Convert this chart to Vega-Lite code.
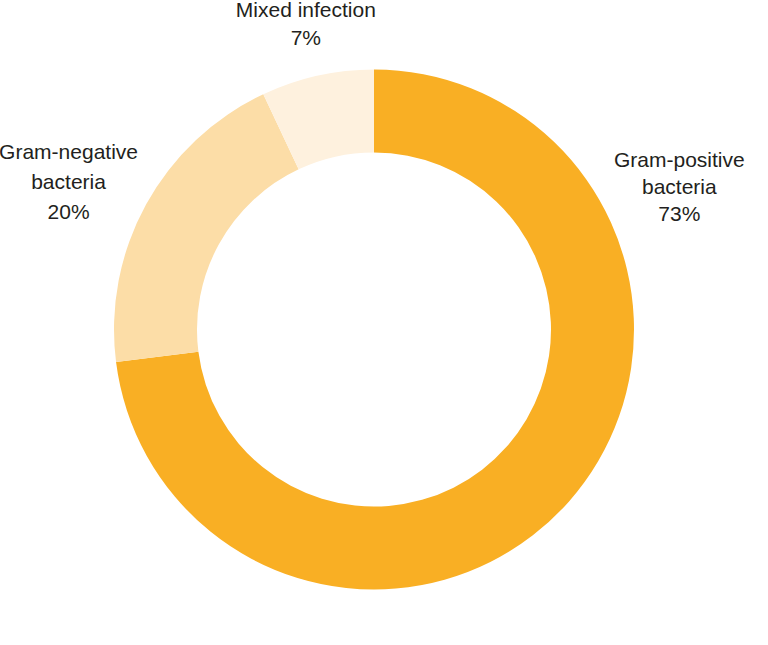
{
  "$schema": "https://vega.github.io/schema/vega-lite/v6.json",
  "width": 768,
  "height": 645,
  "autosize": {"type": "fit", "contains": "padding"},
  "padding": {"left": 0, "right": 20, "top": 7, "bottom": 0},
  "background": "white",
  "view": {"stroke": null},
  "data": {
    "values": [
      {"category": "Gram-positive bacteria", "label": "Gram-positive\nbacteria\n73%", "share": 73},
      {"category": "Gram-negative bacteria", "label": "Gram-negative\nbacteria\n20%", "share": 20},
      {"category": "Mixed infection", "label": "Mixed infection\n7%", "share": 7}
    ]
  },
  "layer": [
    {
      "mark": {"type": "arc", "outerRadius": 260, "innerRadius": 177, "stroke": null},
      "encoding": {
        "theta": {"field": "share", "type": "quantitative", "stack": true},
        "color": {
          "field": "category",
          "type": "nominal",
          "sort": ["Gram-positive bacteria", "Gram-negative bacteria", "Mixed infection"],
          "scale": {
            "domain": ["Gram-positive bacteria", "Gram-negative bacteria", "Mixed infection"],
            "range": ["#F9AF24", "#FCDDA7", "#FEF1DE"]
          },
          "legend": null
        },
        "order": {"field": "share", "sort": "descending"}
      }
    },
    {
      "transform": [{"filter": "datum.category == 'Gram-positive bacteria'"}],
      "mark": {"type": "text", "theta": 1.134, "radius": 337, "dy": -26, "lineBreak": "\n", "lineHeight": 27, "font": "Liberation Sans", "fontSize": 21, "color": "#231F20", "align": "center", "baseline": "middle"},
      "encoding": {"text": {"field": "label"}}
    },
    {
      "transform": [{"filter": "datum.category == 'Gram-negative bacteria'"}],
      "mark": {"type": "text", "theta": 5.161, "radius": 339, "dy": -29, "lineBreak": "\n", "lineHeight": 30, "font": "Liberation Sans", "fontSize": 21, "color": "#231F20", "align": "center", "baseline": "middle"},
      "encoding": {"text": {"field": "label"}}
    },
    {
      "transform": [{"filter": "datum.category == 'Mixed infection'"}],
      "mark": {"type": "text", "theta": 6.063, "radius": 312, "dy": -14, "lineBreak": "\n", "lineHeight": 28, "font": "Liberation Sans", "fontSize": 21, "color": "#231F20", "align": "center", "baseline": "middle"},
      "encoding": {"text": {"field": "label"}}
    }
  ]
}
